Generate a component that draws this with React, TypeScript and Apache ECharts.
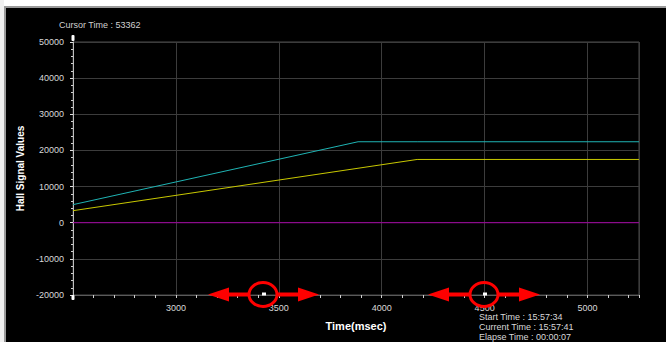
import React, { useEffect, useRef } from "react";
import * as echarts from "echarts";

const timeMs = [2500, 3885, 4172, 5250];
const cyanValues = [5000, 22400, 22400, 22400];
const yellowTime = [2500, 4172, 5250];
const yellowValues = [3330, 17500, 17500];
const magentaTime = [2500, 5250];
const magentaValues = [0, 0];
const infoLines = ["Start Time : 15:57:34", "Current Time : 15:57:41", "Elapse Time : 00:00:07"];
const cursorLabel = "Cursor Time : 53362";

const FONT = "Liberation Sans, Arial, sans-serif";
const GRID = { left: 73, top: 42, width: 566, height: 253 };

function arrowPair(cx: number, cy: number, leftTip: number, rightTip: number): any[] {
  const red = "#ff0000";
  const head = 21;
  const half = 7;
  return [
    { type: "line", shape: { x1: leftTip + head - 1, y1: cy, x2: cx - 14, y2: cy }, style: { stroke: red, lineWidth: 4 }, z: 100 },
    { type: "line", shape: { x1: cx + 14, y1: cy, x2: rightTip - head + 1, y2: cy }, style: { stroke: red, lineWidth: 4 }, z: 100 },
    { type: "polygon", shape: { points: [[leftTip, cy], [leftTip + head, cy - half], [leftTip + head, cy + half]] }, style: { fill: red }, z: 100 },
    { type: "polygon", shape: { points: [[rightTip, cy], [rightTip - head, cy - half], [rightTip - head, cy + half]] }, style: { fill: red }, z: 100 },
    { type: "ellipse", shape: { cx, cy, rx: 14, ry: 12 }, style: { stroke: red, lineWidth: 3, fill: "transparent" }, z: 100 },
    { type: "rect", shape: { x: cx - 1, y: cy - 2, width: 4, height: 3 }, style: { fill: "#ffffff" }, z: 101 },
  ];
}

export default function App() {
  const ref = useRef<HTMLDivElement>(null);
  useEffect(() => {
    if (!ref.current) return;
    const chart = echarts.init(ref.current, null, { renderer: "svg" });
    const axisLabelStyle = { color: "#d8d8d8", fontSize: 9, fontFamily: FONT };
    chart.setOption({
      animation: false,
      backgroundColor: "#000000",
      grid: { ...GRID, show: true, borderColor: "#4a4a4a", borderWidth: 1, backgroundColor: "transparent", containLabel: false },
      xAxis: [
        {
          type: "value",
          position: "bottom",
          min: 2500,
          max: 5250,
          interval: 100,
          axisLine: { show: true, onZero: false, lineStyle: { color: "#5a5a5a", width: 1 } },
          axisTick: { show: true, length: 3, lineStyle: { color: "#cfcfcf" } },
          axisLabel: { show: false },
          splitLine: { show: false },
        },
        {
          type: "value",
          position: "bottom",
          min: 2500,
          max: 5250,
          interval: 500,
          axisLine: { show: false, onZero: false },
          axisTick: { show: false },
          axisLabel: {
            ...axisLabelStyle,
            margin: 8,
            showMinLabel: false,
            showMaxLabel: false,
            formatter: (v: number) => (v % 500 === 0 && v !== 2500 ? String(v) : ""),
          },
          splitLine: { show: true, lineStyle: { color: "#3c3c3c", width: 1 } },
          name: "Time(msec)",
          nameLocation: "middle",
          nameGap: 25,
          nameTextStyle: { color: "#ffffff", fontSize: 11, fontWeight: "bold", fontFamily: FONT },
        },
      ],
      yAxis: {
        type: "value",
        min: -20000,
        max: 50000,
        interval: 10000,
        axisLine: { show: true, onZero: false, lineStyle: { color: "#bdbdbd", width: 1 } },
        axisTick: { show: true, length: 3, lineStyle: { color: "#e0e0e0" } },
        minorTick: { show: true, splitNumber: 5, length: 2, lineStyle: { color: "#cfcfcf" } },
        axisLabel: { ...axisLabelStyle, margin: 9, formatter: (v: number) => String(v) },
        splitLine: { show: true, lineStyle: { color: "#3c3c3c", width: 1 } },
        name: "Hall Signal Values",
        nameLocation: "middle",
        nameGap: 48,
        nameTextStyle: { color: "#ffffff", fontSize: 10, fontWeight: "bold", fontFamily: FONT },
      },
      series: [
        {
          type: "line",
          xAxisIndex: 0,
          data: magentaTime.map((t, i) => [t, magentaValues[i]]),
          symbol: "none",
          lineStyle: { color: "#a000a0", width: 1 },
          z: 3,
        },
        {
          type: "line",
          xAxisIndex: 0,
          data: yellowTime.map((t, i) => [t, yellowValues[i]]),
          symbol: "none",
          lineStyle: { color: "#c8c800", width: 1 },
          z: 3,
        },
        {
          type: "line",
          xAxisIndex: 0,
          data: timeMs.map((t, i) => [t, cyanValues[i]]),
          symbol: "none",
          lineStyle: { color: "#1fb4b4", width: 1 },
          z: 3,
        },
      ],
      graphic: [
        { type: "rect", shape: { x: 0, y: 0, width: 666, height: 6 }, style: { fill: "#ffffff" }, z: 50 },
        { type: "rect", shape: { x: 0, y: 6, width: 666, height: 2 }, style: { fill: "#9a9a9a" }, z: 50 },
        { type: "rect", shape: { x: 0, y: 0, width: 4, height: 342 }, style: { fill: "#f0f0f0" }, z: 50 },
        { type: "rect", shape: { x: 4, y: 6, width: 2, height: 336 }, style: { fill: "#9a9a9a" }, z: 50 },
        {
          type: "text",
          x: 59,
          y: 25,
          style: { text: cursorLabel, fill: "#d0d0d0", fontSize: 9, fontFamily: FONT, textVerticalAlign: "middle" },
          z: 50,
        },
        ...infoLines.map((t, i) => ({
          type: "text",
          x: 479,
          y: 317 + i * 10,
          style: { text: t, fill: "#d8d8d8", fontSize: 9, fontFamily: FONT, textVerticalAlign: "middle" },
          z: 50,
        })),
        { type: "rect", shape: { x: 71.5, y: 35, width: 3, height: 6, r: 1 }, style: { fill: "#ffffff" }, z: 60 },
        { type: "rect", shape: { x: 71.5, y: 295, width: 3, height: 5, r: 1 }, style: { fill: "#ffffff" }, z: 60 },
        ...arrowPair(263, 294.5, 208, 319),
        ...arrowPair(484, 294.5, 428, 540),
      ],
    });
    return () => chart.dispose();
  }, []);
  return <div ref={ref} style={{ position: "fixed", left: 0, top: 0, width: 666, height: 342 }} />;
}
